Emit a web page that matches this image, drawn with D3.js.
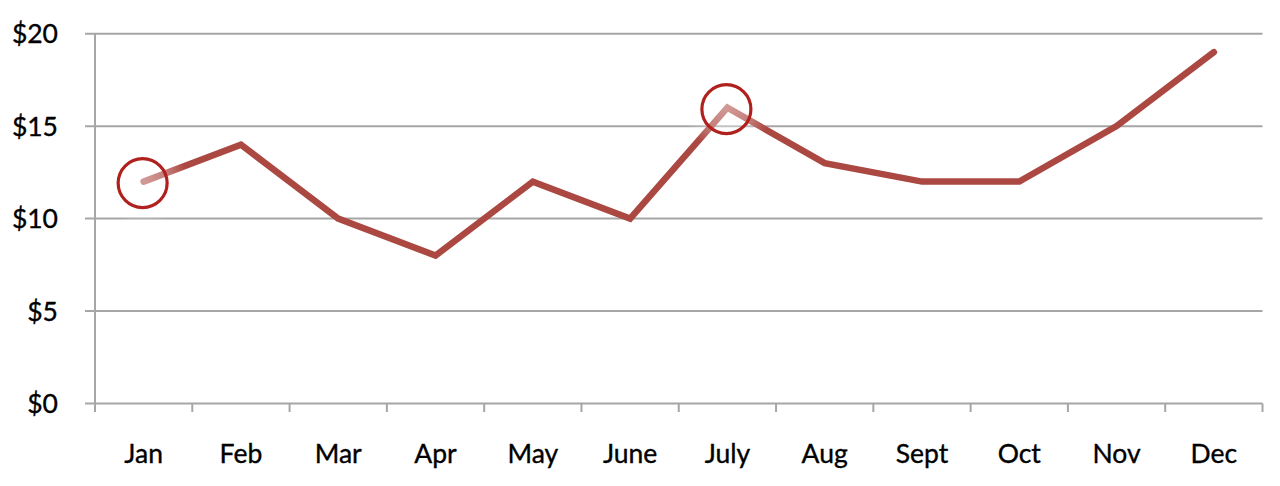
<!DOCTYPE html>
<html><head><meta charset="utf-8">
<script src="https://cdn.jsdelivr.net/npm/d3@7"></script>
<style>body{margin:0;background:#fff}svg{display:block}text{font-family:Lato,"Open Sans",sans-serif;fill:#000;stroke:#000;stroke-width:0.35px}</style>
</head><body><svg id="c" width="1280" height="486"></svg>
<script>
const months = ["Jan","Feb","Mar","Apr","May","June","July","Aug","Sept","Oct","Nov","Dec"];
const values = [12,14,10,8,12,10,16,13,12,12,15,19];
const yTicks = [0,5,10,15,20];
const highlighted = ["Jan","July"];

const svg = d3.select("#c");
const x = d3.scaleBand().domain(months).range([95,1262.5]);
const y = d3.scaleLinear().domain([0,20]).range([403.5,33.7]);

const defs = svg.append("defs");
const rg = defs.append("radialGradient").attr("id","glow");
rg.append("stop").attr("offset","0%").attr("stop-color","#fff").attr("stop-opacity",0.45);
rg.append("stop").attr("offset","55%").attr("stop-color","#fff").attr("stop-opacity",0.3);
rg.append("stop").attr("offset","100%").attr("stop-color","#fff").attr("stop-opacity",0);

// gridlines
svg.append("g").selectAll("line").data(yTicks).join("line")
  .attr("x1",85).attr("x2",1262.5)
  .attr("y1",d=>y(d)).attr("y2",d=>y(d))
  .attr("stroke","#a6a6a6").attr("stroke-width",2);
// y axis line
svg.append("line").attr("x1",95).attr("x2",95).attr("y1",y(20)).attr("y2",412)
  .attr("stroke","#a6a6a6").attr("stroke-width",2);
// x ticks
const tickX = months.map(m=>x(m)).concat([x.range()[1]]);
svg.append("g").selectAll("line").data(tickX).join("line")
  .attr("x1",d=>d).attr("x2",d=>d).attr("y1",y(0)).attr("y2",412)
  .attr("stroke","#a6a6a6").attr("stroke-width",2);
// y labels
svg.append("g").selectAll("text").data(yTicks).join("text")
  .attr("x",58).attr("y",d=>y(d)).attr("dy","0.36em").attr("text-anchor","end")
  .attr("font-size",26.5).text(d=>"$"+d);
// x labels
svg.append("g").selectAll("text").data(months).join("text")
  .attr("x",d=>x(d)+x.bandwidth()/2).attr("y",463).attr("text-anchor","middle")
  .attr("font-size",26.5).text(d=>d);

// line
const line = d3.line().x((d,i)=>x(months[i])+x.bandwidth()/2).y(d=>y(d));
svg.append("path").datum(values).attr("d",line).attr("fill","none")
  .attr("stroke","#ac4842").attr("stroke-width",6.5).attr("stroke-linecap","round").attr("stroke-linejoin","miter");

// highlight circles
const hl = highlighted.map(m=>({m, v: values[months.indexOf(m)]}));
svg.append("g").selectAll("circle").data(hl).join("circle")
  .attr("cx",d=>x(d.m)+x.bandwidth()/2).attr("cy",d=>y(d.v)).attr("r",44)
  .attr("fill","url(#glow)");
svg.append("g").selectAll("circle").data(hl).join("circle")
  .attr("cx",d=>x(d.m)+x.bandwidth()/2-1).attr("cy",d=>y(d.v)+1.5).attr("r",24.5)
  .attr("fill","none").attr("stroke","#b0201c").attr("stroke-width",3.2);
</script></body></html>
